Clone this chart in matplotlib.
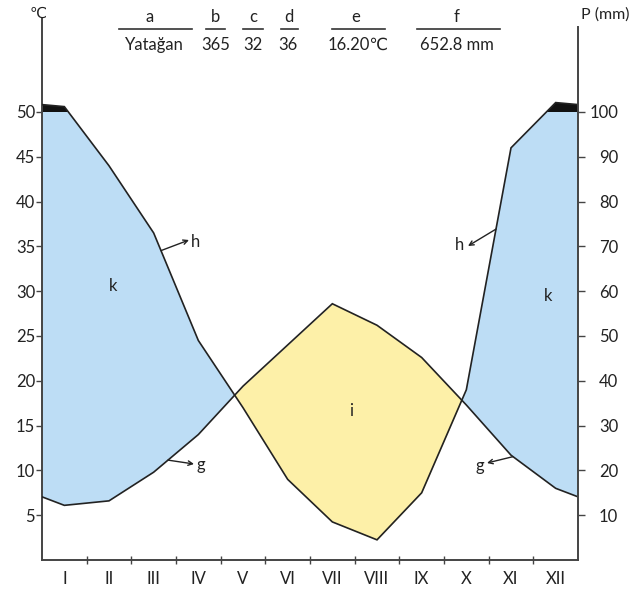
import numpy as np
import matplotlib
matplotlib.use("Agg")
import matplotlib.pyplot as plt
from matplotlib.lines import Line2D

plt.rcParams['font.family'] = ['Lato', 'DejaVu Sans']

# ---- data ----
months = ['I', 'II', 'III', 'IV', 'V', 'VI', 'VII', 'VIII', 'IX', 'X', 'XI', 'XII']
temp = [6.1, 6.6, 9.8, 14.0, 19.4, 24.0, 28.6, 26.2, 22.6, 17.3, 11.7, 8.0]      # deg C
precip = [112, 88, 73, 49, 34, 18, 8.5, 4.5, 15, 38, 92, 121]                   # mm
left_ticks = [5, 10, 15, 20, 25, 30, 35, 40, 45, 50]
right_ticks = [10, 20, 30, 40, 50, 60, 70, 80, 90, 100]
header_keys = ['a', 'b', 'c', 'd', 'e', 'f']
header_vals = ['Yatağan', '365', '32', '36', '16.20℃', '652.8 mm']

W, H = 634, 590
fig = plt.figure(figsize=(W / 100, H / 100), dpi=100)
fig.patch.set_facecolor('white')

# axes placement in pixels
x0, x1 = 42, 578
ybot, ytop = 560, 18
px_per_deg = 8.96
ymax = (ybot - ytop) / px_per_deg
ax = fig.add_axes([x0 / W, 1 - ybot / H, (x1 - x0) / W, (ybot - ytop) / H])
ax.set_xlim(0, 12)
ax.set_ylim(0, ymax)

# series in temperature units (P scale: 2 mm per degC up to 100 mm, 20 mm per degC above)
t = np.array(temp)
p = np.array(precip, dtype=float)
p_disp = np.where(p <= 100, p / 2.0, 50 + (p - 100) / 20.0)

xc = np.arange(12) + 0.5
xs = np.concatenate([[0], xc, [12]])
t_full = np.concatenate([[(t[0] + t[-1]) / 2], t, [(t[0] + t[-1]) / 2]])
p_full = np.concatenate([[(p_disp[0] + p_disp[-1]) / 2], p_disp, [(p_disp[0] + p_disp[-1]) / 2]])

# dense version for fills
xd = np.linspace(0, 12, 2401)
td = np.interp(xd, xs, t_full)
pd_ = np.interp(xd, xs, p_full)

blue = '#BDDDF5'
yellow = '#FDF0A8'
black = '#111111'
ax.fill_between(xd, td, np.minimum(pd_, 50), where=pd_ > td, interpolate=True,
                color=blue, lw=0, zorder=1)
ax.fill_between(xd, pd_, td, where=td > pd_, interpolate=True,
                color=yellow, lw=0, zorder=1)
ax.fill_between(xd, 50, pd_, where=pd_ > 50, interpolate=True,
                color=black, lw=0, zorder=2)

lc = '#222222'
ax.plot(xs, t_full, color=lc, lw=1.2, zorder=3, solid_joinstyle='miter')
ax.plot(xs, p_full, color=lc, lw=1.2, zorder=3, solid_joinstyle='miter')

# spines / ticks
ax.spines['top'].set_visible(False)
ax.spines['right'].set_visible(False)
for s in ['left', 'bottom']:
    ax.spines[s].set_color('#444444')
    ax.spines[s].set_linewidth(1.4)

tfs = 12
ax.set_yticks(left_ticks)
ax.set_yticklabels([str(v) for v in left_ticks], fontsize=tfs, color='#222222')
ax.tick_params(axis='y', direction='out', length=4, width=1, pad=1, color='#444444')

ax.set_xticks(np.arange(1, 12))
ax.set_xticklabels([])
ax.tick_params(axis='x', which='major', direction='inout', length=6, width=1, color='#444444')
ax.set_xticks(xc, minor=True)
ax.set_xticklabels(months, minor=True, fontsize=tfs, color='#222222')
ax.tick_params(axis='x', which='minor', length=0, pad=8)

ax2 = ax.twinx()
ax2.set_ylim(0, 2 * ymax)
ax2.spines['top'].set_visible(False)
ax2.spines['left'].set_visible(False)
ax2.spines['bottom'].set_visible(False)
ax2.spines['right'].set_color('#444444')
ax2.spines['right'].set_linewidth(1.4)
ax2.spines['right'].set_bounds(0, 2 * (ybot - 27) / px_per_deg)
ax2.set_yticks(right_ticks)
ax2.set_yticklabels([str(v) for v in right_ticks], fontsize=tfs, color='#222222')
ax2.tick_params(axis='y', direction='out', length=5, width=1, pad=24, color='#444444')
for lab in ax2.get_yticklabels():
    lab.set_horizontalalignment('right')

# labels on the chart
def pxd(px, py):
    return ((px - x0) / 44.667, (ybot - py) / px_per_deg)

tc = '#222222'
fs = 12
def ann(letter, txt_px, tip_px, src_x, series):
    tx, ty = pxd(*txt_px)
    hx, hy = pxd(*tip_px)
    sy = np.interp(src_x, xs, series)
    ax.text(tx, ty, letter, fontsize=fs, color=tc, ha='center', va='center', zorder=5)
    ax.annotate('', xy=(hx, hy), xytext=(src_x, sy),
                arrowprops=dict(arrowstyle='->', color=tc, lw=1.0,
                                shrinkA=0, shrinkB=0, mutation_scale=8), zorder=5)

ann('h', (196, 242), (189, 240), pxd(161, 0)[0], p_full)
ann('g', (201, 465), (194, 464), pxd(168, 0)[0], t_full)
ann('h', (460, 245), (468, 246), pxd(496, 0)[0], p_full)
ann('g', (480, 466), (487, 463), pxd(513, 0)[0], t_full)

kx, ky = pxd(113, 286)
ax.text(kx, ky, 'k', fontsize=fs, color=tc, ha='center', va='center', zorder=5)
kx, ky = pxd(548, 296)
ax.text(kx, ky, 'k', fontsize=fs, color=tc, ha='center', va='center', zorder=5)
ix, iy = pxd(351, 411)
ax.text(ix, iy, 'i', fontsize=fs, color=tc, ha='center', va='center', zorder=5)

# axis unit labels
fig.text(38 / W, 1 - 14 / H, '℃', fontsize=11, color=tc, ha='center', va='center')
fig.text(581 / W, 1 - 15 / H, 'P (mm)', fontsize=11.5, color=tc, ha='left', va='center')

# header table
key_x = [150, 215, 253, 289, 356, 457]
val_x = [154, 216, 253, 288, 358, 457]
line_x = [(119, 192), (206, 225), (243, 263), (281, 298), (332, 385), (417, 500)]
for k, v, kx_, vx_, (la, lb) in zip(header_keys, header_vals, key_x, val_x, line_x):
    fig.text(kx_ / W, 1 - 17 / H, k, fontsize=12, color=tc, ha='center', va='center')
    fig.text(vx_ / W, 1 - 45 / H, v, fontsize=12, color=tc, ha='center', va='center')
    fig.add_artist(Line2D([la / W, lb / W], [1 - 29 / H, 1 - 29 / H],
                          transform=fig.transFigure, color='#333333', lw=1.2))

fig.savefig('out.png', dpi=100, facecolor='white')
